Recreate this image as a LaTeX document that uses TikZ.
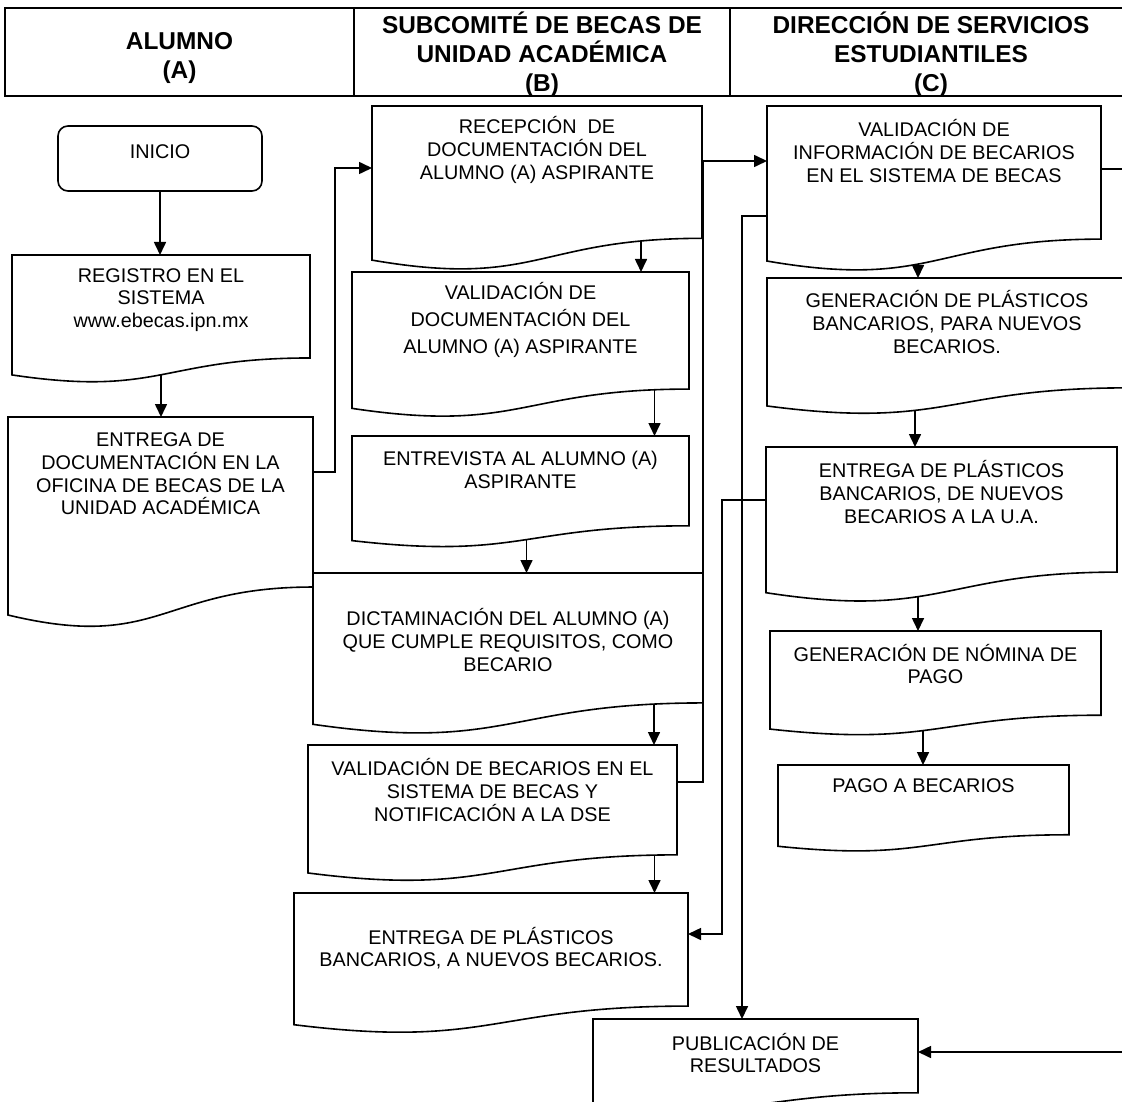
\documentclass[tikz,border=0pt]{standalone}
\usepackage{fontspec}
\setmainfont{Liberation Sans}
\usepackage{tikz}
\usetikzlibrary{arrows.meta,calc,fit}
\tikzset{
    every picture/.style={line join=miter},
    hdrcell/.style={draw=black,line width=1pt,inner sep=0pt,outer sep=0pt},
    hdrtext/.style={inner sep=0pt,align=center,font=\fontsize{12.2}{14.4}\selectfont\bfseries},
    stepbox/.style={inner sep=0pt,outer sep=0pt},
    startbox/.style={stepbox,draw=black,fill=white,line width=0.8pt,rounded corners=5pt},
    docline/.style={draw=black,fill=white,line width=0.8pt},
    steptext/.style={inner sep=0pt,align=center,text=black,
      font=\fontsize{9.9}{11.3}\selectfont},
    flowarrow/.style={-{Triangle[length=6.5pt,width=6pt]},draw=black,line width=0.8pt}
}

\begin{document}
\begin{tikzpicture}[x=0.5pt,y=-0.5pt]
  \useasboundingbox (0,0) rectangle (1122,1101);
  \clip (0,0) rectangle (1122,1101);
  \fill[white] (0,0) rectangle (1122,1101);

  % encabezado
  \node[hdrcell,fit={(5,8)(354,96)}] (hdrA) {};
  \node[hdrcell,fit={(354,8)(730,96)}] (hdrB) {};
  \node[hdrcell,fit={(730,8)(1132,96)}] (hdrC) {};
  \node[hdrtext] (titA) at ([yshift=-3pt]hdrA.center) {ALUMNO\\(A)};
  \node[hdrtext] (titB) at ([yshift=-1pt]hdrB.center) {SUBCOMITÉ DE BECAS DE\\UNIDAD ACADÉMICA\\(B)};
  \node[hdrtext] (titC) at ([yshift=-1pt]hdrC.center) {DIRECCIÓN DE SERVICIOS\\ESTUDIANTILES\\(C)};

  % pasos
  \node[startbox,fit={(58,126)(262,191)}] (ini) {};
  \node[stepbox,fit={(12,255)(310,383.4)}] (reg) {};
  \node[stepbox,fit={(8,417)(313,629)}] (entA) {};
  \node[stepbox,fit={(372,106)(702,271)}] (recep) {};
  \node[stepbox,fit={(352,272)(689,418)}] (valD) {};
  \node[stepbox,fit={(352,436)(689,548)}] (entr) {};
  \node[stepbox,fit={(313,573)(703,735)}] (dict) {};
  \node[stepbox,fit={(308,745)(677,882)}] (valB) {};
  \node[stepbox,fit={(294,893)(688,1034)}] (entB) {};
  \node[stepbox,fit={(767,106)(1101,272)}] (valI) {};
  \node[stepbox,fit={(767,278)(1127,415)}] (genP) {};
  \node[stepbox,fit={(766,447)(1117,603)}] (entC) {};
  \node[stepbox,fit={(770,631)(1101,736)}] (nom) {};
  \node[stepbox,fit={(778,765)(1069,852)}] (pago) {};
  \node[stepbox,fit={(593,1019)(918,1111)}] (pub) {};

  % conectores (bajo las cajas)
  \draw[flowarrow] (ini.south) -- (ini.south |- reg.north);
  \draw[flowarrow] (reg.center) -- (reg.center |- entA.north);
  \draw[flowarrow] ([yshift=-27.5pt]entA.north east) -- ++(11pt,0pt)
    |- ([yshift=-31pt]recep.north west);
  \draw[flowarrow] ([xshift=52pt]recep.center) -- ([xshift=52pt]recep.center |- valD.north);
  \draw[flowarrow] ([xshift=67pt]valD.center) -- ([xshift=67pt]valD.center |- entr.north);
  \draw[flowarrow] ([xshift=3pt]entr.center) -- ([xshift=3pt]entr.center |- dict.north);
  \draw[flowarrow] ([xshift=73pt]dict.center) -- ([xshift=73pt]dict.center |- valB.north);
  \draw[flowarrow] ([xshift=81pt]valB.center) -- ([xshift=81pt]valB.center |- entB.north);
  \draw[flowarrow] ([yshift=-18.5pt]valB.north east) -- ++(13pt,0pt)
    |- ([yshift=-27.5pt]valI.north west);
  \draw[flowarrow] ([xshift=-8pt]valI.center) -- ([xshift=-8pt]valI.center |- genP.north);
  \draw[flowarrow] ([xshift=-16pt]genP.center) -- ([xshift=-16pt]genP.center |- entC.north);
  \draw[flowarrow] ([xshift=-11.75pt]entC.center) -- ([xshift=-11.75pt]entC.center |- nom.north);
  \draw[flowarrow] ([xshift=-6.25pt]nom.center) -- ([xshift=-6.25pt]nom.center |- pago.north);
  \draw[flowarrow] ([yshift=-26.5pt]entC.north west) -- ++(-22pt,0pt)
    |- ([yshift=-20.5pt]entB.north east);
  \draw[flowarrow] ([yshift=-55pt]valI.north west) -| ([xshift=-6.75pt]pub.north);
  \draw[flowarrow] ([yshift=-31.5pt]valI.north east) -- ++(20pt,0pt)
    |- ([yshift=-16.5pt]pub.north east);

  % cajas de documento
  \foreach \n in {reg,entA,recep,valD,entr,dict,valB,entB,valI,genP,entC,nom,pago,pub}
    \draw[docline] (\n.north west) -- (\n.north east)
      -- ($(\n.north east)!0.802!(\n.south east)$)
      .. controls ($(\n.north)!0.802!(\n.south)$) and ($(\n.north)!1.107!(\n.south)$)
      .. ($(\n.north west)!0.934!(\n.south west)$) -- cycle;

  % textos
  \node[steptext] (iniT) at ([yshift=-13pt]ini.north) {INICIO};
  \node[steptext] (regT) at ([yshift=-22.5pt]reg.north) {REGISTRO EN EL\\SISTEMA\\www.ebecas.ipn.mx};
  \node[steptext] (entAT) at ([yshift=-28.5pt]entA.north) {ENTREGA DE\\DOCUMENTACIÓN EN LA\\OFICINA DE BECAS DE LA\\UNIDAD ACADÉMICA};
  \node[steptext] (recepT) at ([yshift=-22pt]recep.north) {RECEPCIÓN\ \ DE\\DOCUMENTACIÓN DEL\\ALUMNO (A) ASPIRANTE};
  \node[steptext,font=\fontsize{9.9}{13.3}\selectfont] (valDT) at ([yshift=-24pt]valD.north) {VALIDACIÓN DE\\DOCUMENTACIÓN DEL\\ALUMNO (A) ASPIRANTE};
  \node[steptext] (entrT) at ([yshift=-17pt]entr.north) {ENTREVISTA AL ALUMNO (A)\\ASPIRANTE};
  \node[steptext] (dictT) at ([yshift=-33.5pt]dict.north) {DICTAMINACIÓN DEL ALUMNO (A)\\QUE CUMPLE REQUISITOS, COMO\\BECARIO};
  \node[steptext] (valBT) at ([yshift=-22.5pt]valB.north) {VALIDACIÓN DE BECARIOS EN EL\\SISTEMA DE BECAS Y\\NOTIFICACIÓN A LA DSE};
  \node[steptext] (entBT) at ([yshift=-27.5pt]entB.north) {ENTREGA DE PLÁSTICOS\\BANCARIOS, A NUEVOS BECARIOS.};
  \node[steptext] (valIT) at ([yshift=-22.5pt]valI.north) {VALIDACIÓN DE\\INFORMACIÓN DE BECARIOS\\EN EL SISTEMA DE BECAS};
  \node[steptext] (genPT) at ([yshift=-22pt]genP.north) {GENERACIÓN DE PLÁSTICOS\\BANCARIOS, PARA NUEVOS\\BECARIOS.};
  \node[steptext] (entCT) at ([yshift=-22.5pt]entC.north) {ENTREGA DE PLÁSTICOS\\BANCARIOS, DE NUEVOS\\BECARIOS A LA U.A.};
  \node[steptext] (nomT) at ([yshift=-16.5pt]nom.north) {GENERACIÓN DE NÓMINA DE\\PAGO};
  \node[steptext] (pagoT) at ([yshift=-10.5pt]pago.north) {PAGO A BECARIOS};
  \node[steptext] (pubT) at ([yshift=-17pt]pub.north) {PUBLICACIÓN DE\\RESULTADOS};
\end{tikzpicture}
\end{document}
